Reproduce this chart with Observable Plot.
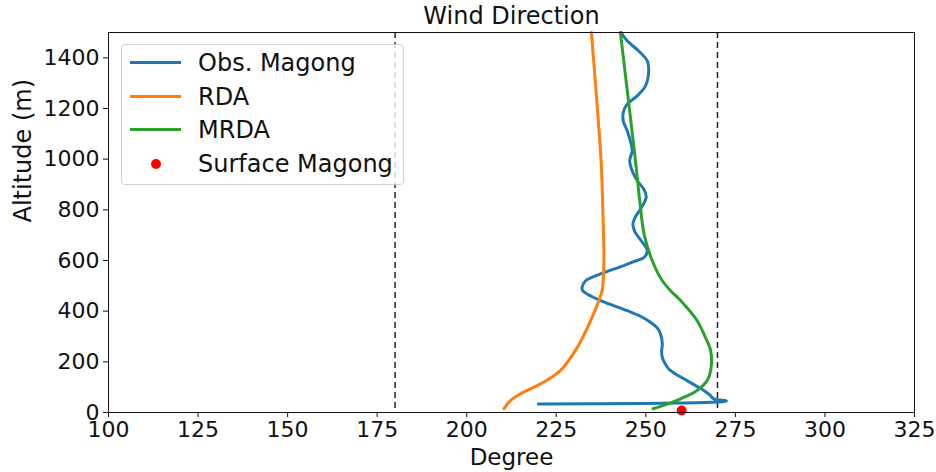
<!DOCTYPE html>
<html>
<head>
<meta charset="utf-8">
<script src="https://cdn.jsdelivr.net/npm/d3@7"></script>
<script src="https://cdn.jsdelivr.net/npm/@observablehq/plot@0.6"></script>
<style>
  body { margin: 0; background: #fff; }
  #wrap { position: relative; width: 936px; height: 472px; font-family: "DejaVu Sans", sans-serif; }
  #legend {
    position: absolute; left: 121px; top: 44px; width: 281px; height: 139px;
    border: 1px solid #d0d0d0; border-radius: 4px; background: rgba(255,255,255,0.8);
    box-sizing: content-box;
  }
  .row { position: absolute; left: 0; height: 30px; }
  .swatch { position: absolute; left: 8px; width: 51px; }
  .lab { position: absolute; left: 76px; font-size: 24px; color: #111; white-space: nowrap; line-height: 30px; }
</style>
</head>
<body>
<div id="wrap"></div>
<script>
// Observed sounding at Magong: altitude (m) and wind direction (degrees)
const obsAlt = [1500, 1467, 1427, 1388, 1349, 1289, 1250, 1217, 1184, 1151, 1112, 1060, 1033, 994, 950, 915, 880, 849, 810, 770, 744, 715, 680, 639, 612, 595, 580, 547, 520, 494, 480, 468, 442, 402, 380, 356, 330, 310, 271, 240, 218, 195, 172, 150, 126, 105, 87, 70, 54, 46, 40, 34];
const obsDeg = [243.1, 244.8, 248.0, 250.4, 250.8, 249.9, 247.6, 244.8, 243.7, 243.7, 244.8, 245.9, 246.2, 245.5, 246.3, 247.6, 249.5, 250.1, 248.8, 247.0, 246.4, 246.9, 248.6, 250.4, 249.5, 246.5, 243.9, 237.4, 233.2, 232.2, 232.4, 233.6, 237.4, 244.8, 248.5, 251.3, 253.4, 254.1, 254.6, 254.4, 254.6, 255.3, 256.4, 258.5, 261.5, 264.0, 266.2, 267.8, 269.0, 272.5, 268.0, 220.0];

// RDA profile
const rdaAlt = [1500, 1250, 994, 800, 599, 520, 481, 442, 363, 300, 258, 166, 113, 74, 47, 15];
const rdaDeg = [234.8, 236.2, 237.5, 238.0, 238.3, 238.1, 237.8, 236.9, 234.6, 232.5, 230.9, 226.2, 220.6, 215.0, 212.2, 210.4];

// MRDA profile
const mrdaAlt = [1500, 994, 836, 705, 599, 520, 481, 442, 363, 300, 244, 166, 126, 87, 54, 28, 15];
const mrdaDeg = [242.9, 247.1, 248.3, 249.5, 251.8, 254.6, 256.9, 259.7, 264.3, 266.5, 268.1, 268.1, 267.1, 264.3, 259.7, 255.0, 252.0];

// Surface station value
const surfaceDeg = [260];
const surfaceAlt = [8];

// Reference directions (south and west)
const refDeg = [180, 270];

const xTicks = [100, 125, 150, 175, 200, 225, 250, 275, 300, 325];
const yTicks = [0, 200, 400, 600, 800, 1000, 1200, 1400];

const series = [
  {name: "Obs. Magong", color: "#1f77b4", alt: obsAlt, deg: obsDeg},
  {name: "RDA", color: "#ff7f0e", alt: rdaAlt, deg: rdaDeg},
  {name: "MRDA", color: "#2ca02c", alt: mrdaAlt, deg: mrdaDeg}
];
const rows = series.flatMap(s => s.alt.map((a, i) => ({series: s.name, alt: a, deg: s.deg[i]})));
const surface = surfaceDeg.map((d, i) => ({deg: d, alt: surfaceAlt[i]}));

const chart = Plot.plot({
  width: 936,
  height: 472,
  marginLeft: 108,
  marginRight: 22,
  marginTop: 32,
  marginBottom: 60,
  style: {fontFamily: "DejaVu Sans, sans-serif", fontSize: "22px", color: "#111", background: "white", overflow: "visible"},
  x: {domain: [100, 325]},
  y: {domain: [0, 1500]},
  marks: [
    Plot.ruleX(refDeg, {stroke: "#222", strokeWidth: 1.5, strokeDasharray: "6,4"}),
    ...series.map(s => Plot.line(rows.filter(r => r.series === s.name), {
      x: "deg", y: "alt", stroke: s.color, strokeWidth: 3, curve: "catmull-rom"
    })),
    Plot.dot(surface, {x: "deg", y: "alt", r: 5, fill: "red"}),
    Plot.frame({stroke: "#111", strokeWidth: 1}),
    Plot.axisX(xTicks, {tickSize: 5, tickPadding: 4, fontSize: 22, label: null, tickFormat: d => String(d)}),
    Plot.axisY(yTicks, {tickSize: 5, tickPadding: 4, fontSize: 22, label: null, tickFormat: d => String(d)}),
    Plot.text(["Degree"], {frameAnchor: "bottom", dy: 45, fontSize: 23, lineAnchor: "middle"}),
    Plot.text(["Altitude (m)"], {frameAnchor: "left", dx: -85, rotate: -90, fontSize: 24, lineAnchor: "middle"}),
    Plot.text(["Wind Direction"], {frameAnchor: "top", dy: -16, fontSize: 24, lineAnchor: "middle"})
  ]
});

const wrap = document.getElementById("wrap");
wrap.appendChild(chart);

// Legend box
const legend = document.createElement("div");
legend.id = "legend";
const tops = [3, 37, 70, 104];
series.forEach((s, i) => {
  const row = document.createElement("div");
  row.className = "row";
  row.style.top = tops[i] + "px";
  row.innerHTML = `<div class="swatch" style="top:13px;height:3px;background:${s.color}"></div><div class="lab">${s.name}</div>`;
  legend.appendChild(row);
});
const dotRow = document.createElement("div");
dotRow.className = "row";
dotRow.style.top = tops[3] + "px";
dotRow.innerHTML = `<div style="position:absolute;left:29px;top:10px;width:10px;height:10px;border-radius:50%;background:red"></div><div class="lab">Surface Magong</div>`;
legend.appendChild(dotRow);
wrap.appendChild(legend);
</script>
</body>
</html>
